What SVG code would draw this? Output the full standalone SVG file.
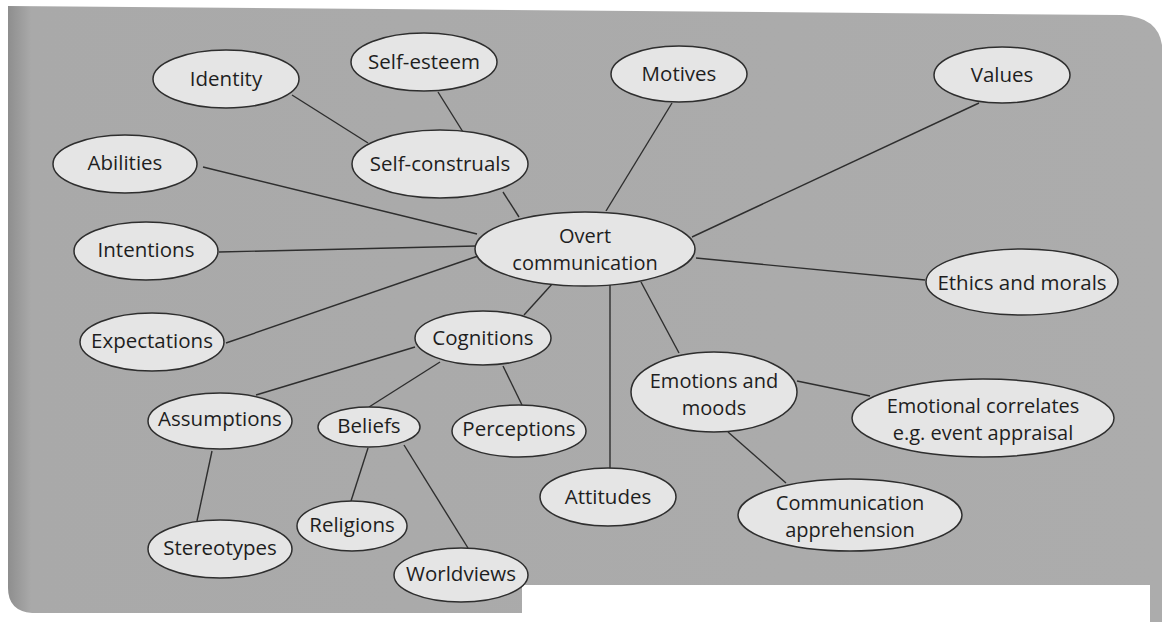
<svg xmlns="http://www.w3.org/2000/svg" width="1162" height="622" viewBox="0 0 1162 622">
<defs>
<linearGradient id="panelGrad" x1="0" y1="0" x2="1" y2="0">
<stop offset="0" stop-color="#8e8e8e"/>
<stop offset="0.02" stop-color="#a9a9a9"/>
<stop offset="1" stop-color="#acacac"/>
</linearGradient>
</defs>
<style>
.node ellipse { fill: #e5e5e5; stroke: #2e2e2e; stroke-width: 1.5; }
.node text { font-family: "Open Sans", "Liberation Sans", sans-serif; font-size: 20.5px; fill: #1e1e1e; text-anchor: middle; dominant-baseline: central; }
.node text.two { font-size: 20px; }
#connectors line { stroke: #2e2e2e; stroke-width: 1.4; }
</style>
<rect x="0" y="0" width="1162" height="622" fill="#ffffff"/>
<path d="M 8,6 L 1122,15 Q 1158,17 1162,45 L 1162,622 L 1150,622 L 1150,585 L 522,585 L 522,613 L 32,613 Q 8,611 8,588 Z" fill="url(#panelGrad)"/>
<g id="connectors">
<line x1="292" y1="95" x2="368" y2="143"/>
<line x1="438" y1="92" x2="463" y2="132"/>
<line x1="503" y1="192" x2="519" y2="217"/>
<line x1="203" y1="167" x2="477" y2="234"/>
<line x1="219" y1="252" x2="476" y2="246"/>
<line x1="226" y1="343" x2="478" y2="256"/>
<line x1="524" y1="315" x2="553" y2="283"/>
<line x1="672" y1="103" x2="606" y2="211"/>
<line x1="979" y1="103" x2="692" y2="237"/>
<line x1="696" y1="258" x2="925" y2="280"/>
<line x1="610" y1="285" x2="610" y2="469"/>
<line x1="641" y1="282" x2="679" y2="353"/>
<line x1="797" y1="381" x2="870" y2="396"/>
<line x1="728" y1="432" x2="786" y2="483"/>
<line x1="415" y1="347" x2="256" y2="395"/>
<line x1="440" y1="362" x2="369" y2="407"/>
<line x1="503" y1="366" x2="522" y2="405"/>
<line x1="212" y1="451" x2="197" y2="521"/>
<line x1="368" y1="448" x2="351" y2="501"/>
<line x1="404" y1="445" x2="468" y2="548"/>
</g>
<g id="identity" class="node"><ellipse cx="226" cy="79" rx="73" ry="29"/><text x="226" y="78">Identity</text></g>
<g id="self-esteem" class="node"><ellipse cx="424" cy="62" rx="73" ry="29"/><text x="424" y="61">Self-esteem</text></g>
<g id="self-construals" class="node"><ellipse cx="440" cy="164" rx="88" ry="34"/><text x="440" y="163">Self-construals</text></g>
<g id="abilities" class="node"><ellipse cx="125" cy="164" rx="72" ry="29"/><text x="125" y="162">Abilities</text></g>
<g id="intentions" class="node"><ellipse cx="146" cy="251" rx="72" ry="29"/><text x="146" y="249">Intentions</text></g>
<g id="overt-communication" class="node"><ellipse cx="585" cy="249" rx="110" ry="37"/><text class="two" x="585" y="235">Overt<tspan x="585" dy="27">communication</tspan></text></g>
<g id="motives" class="node"><ellipse cx="679" cy="74" rx="68" ry="28"/><text x="679" y="73">Motives</text></g>
<g id="values" class="node"><ellipse cx="1002" cy="75" rx="68" ry="28"/><text x="1002" y="74">Values</text></g>
<g id="ethics-and-morals" class="node"><ellipse cx="1022" cy="282" rx="96" ry="33"/><text x="1022" y="282">Ethics and morals</text></g>
<g id="expectations" class="node"><ellipse cx="152" cy="342" rx="72" ry="29"/><text x="152" y="340">Expectations</text></g>
<g id="cognitions" class="node"><ellipse cx="483" cy="338" rx="68" ry="27"/><text x="483" y="337">Cognitions</text></g>
<g id="assumptions" class="node"><ellipse cx="220" cy="421" rx="72" ry="28"/><text x="220" y="418">Assumptions</text></g>
<g id="beliefs" class="node"><ellipse cx="369" cy="427" rx="51" ry="20"/><text x="369" y="425">Beliefs</text></g>
<g id="perceptions" class="node"><ellipse cx="519" cy="431" rx="67" ry="26"/><text x="519" y="428">Perceptions</text></g>
<g id="stereotypes" class="node"><ellipse cx="220" cy="549" rx="72" ry="29"/><text x="220" y="547">Stereotypes</text></g>
<g id="religions" class="node"><ellipse cx="352" cy="526" rx="55" ry="25"/><text x="352" y="524">Religions</text></g>
<g id="worldviews" class="node"><ellipse cx="461" cy="575" rx="67" ry="27"/><text x="461" y="573">Worldviews</text></g>
<g id="attitudes" class="node"><ellipse cx="608" cy="497" rx="68" ry="29"/><text x="608" y="496">Attitudes</text></g>
<g id="emotions-and-moods" class="node"><ellipse cx="714" cy="392" rx="83" ry="40"/><text class="two" x="714" y="380">Emotions and<tspan x="714" dy="27">moods</tspan></text></g>
<g id="emotional-correlates" class="node"><ellipse cx="983" cy="418" rx="131" ry="39"/><text class="two" x="983" y="405">Emotional correlates<tspan x="983" dy="27">e.g. event appraisal</tspan></text></g>
<g id="communication-apprehension" class="node"><ellipse cx="850" cy="515" rx="112" ry="36"/><text class="two" x="850" y="502">Communication<tspan x="850" dy="27">apprehension</tspan></text></g>
</svg>
